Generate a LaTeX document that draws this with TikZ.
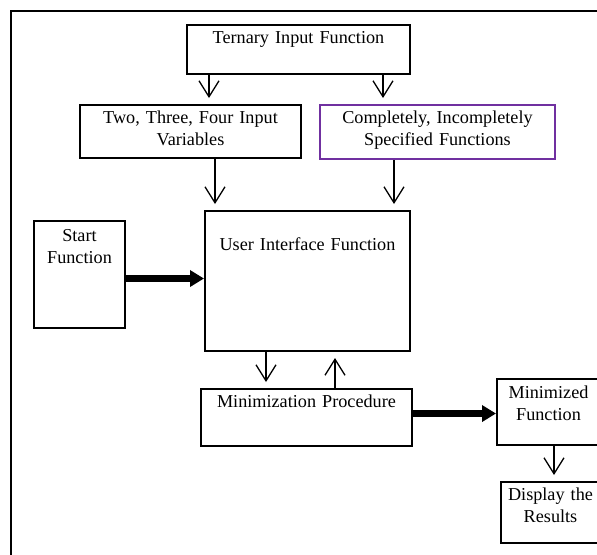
\documentclass[tikz,border=0pt]{standalone}
\usepackage{fontspec}
\setmainfont{Liberation Serif}
\usetikzlibrary{arrows.meta}
\definecolor{boxpurple}{HTML}{7030A0}

\begin{document}
\begin{tikzpicture}[x=0.5pt,y=-0.5pt,
  box/.style={draw,line width=1pt,inner sep=0pt,align=center,anchor=north,
    font=\fontsize{9.1}{11}\selectfont},
  arr/.style={line width=0.65pt,-{Straight Barb[length=8pt,width=10pt]},shorten >=3pt},
  fatarr/.style={line width=3.5pt,-{Triangle[length=7pt,width=8pt]}}]
\clip (0,0) rectangle (597,554);
\draw[line width=1.25pt] (11,11) rectangle (610,570);
\node[box,text width=111.5pt,text height=9pt,text depth=15.5pt] (tern) at (298.5,24) {Ternary Input Function};
\node[box,text width=110.5pt,text height=9pt,text depth=17.5pt] (inputs) at (190.5,104) {Two, Three, Four Input\\Variables};
\node[box,draw=boxpurple,text width=117.5pt,text height=9pt,text depth=18pt] (spec) at (437.5,104) {Completely, Incompletely\\Specified Functions};
\node[box,text width=102.5pt,text height=19.5pt,text depth=50.5pt] (ui) at (307.5,210) {User Interface Function};
\node[box,text width=45.5pt,text height=10pt,text depth=43.5pt] (start) at (79.5,220) {Start\\Function};
\node[box,text width=105.5pt,text height=9pt,text depth=19.5pt] (minproc) at (306.5,388) {Minimization Procedure};
\node[box,text width=51.5pt,text height=9.5pt,text depth=23.5pt] (minfun) at (548.5,378) {Minimized\\Function};
\node[box,text width=49.5pt,text height=9pt,text depth=21.5pt] (result) at (550.5,481) {Display the\\Results};
\coordinate (startout) at ([yshift=-2pt]start.east);
\coordinate (minout) at ([yshift=2pt]minproc.east);
\draw[arr] (209,0 |- tern.south) -- (209,0 |- inputs.north);
\draw[arr] (383,0 |- tern.south) -- (383,0 |- spec.north);
\draw[arr] (215,0 |- inputs.south) -- (215,0 |- ui.north);
\draw[arr] (394,0 |- spec.south) -- (394,0 |- ui.north);
\draw[arr] (266,0 |- ui.south) -- (266,0 |- minproc.north);
\draw[arr] (335,0 |- minproc.north) -- (335,0 |- ui.south);
\draw[arr] (554,0 |- minfun.south) -- (554,0 |- result.north);
\draw[fatarr] (startout) -- (ui.west |- startout);
\draw[fatarr] (minout) -- (minfun.west |- minout);
\end{tikzpicture}
\end{document}
